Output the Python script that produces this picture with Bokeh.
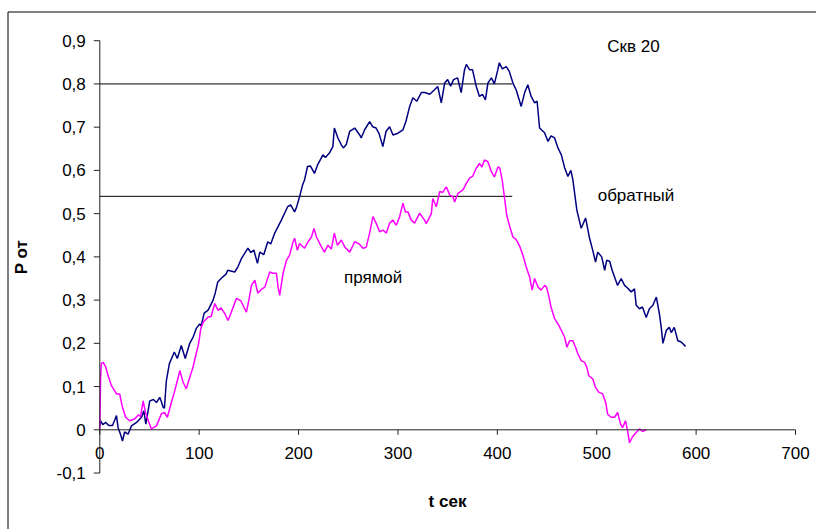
from bokeh.plotting import figure
from bokeh.models import FixedTicker, CustomJSTickFormatter, Range1d
from bokeh.embed import file_html
from bokeh.resources import INLINE

# обратный (blue)
t_obr = [0, 0.7, 3, 6, 9, 12.7, 15, 16.8, 18.4, 20.8, 22.8, 25, 28.5, 31.9, 37, 42, 44.3, 46.3, 48.6, 50.3,
         54, 57, 60.3, 62, 63.7, 65, 67, 70, 75, 78, 82, 86, 90.5, 94, 97, 100.5, 102, 105, 109, 114,
         116, 118.7, 122, 127, 128.7, 135.8, 139, 142.5, 149, 152, 155, 158.6, 161, 165, 169, 172, 176, 182.7, 189, 192,
         196, 198, 201, 204, 206, 209, 212, 216, 219, 224.5, 227, 231, 234.5, 236, 239.6, 243, 245, 248, 251.4, 256.5,
         261.5, 263, 266.5, 271.5, 274.5, 278, 281, 284.8, 288, 291.6, 295, 300, 305, 308, 311.8, 315, 319, 323.5, 327, 332,
         337, 340, 343.6, 347, 350, 353, 356, 360, 363.6, 367, 368.8, 372, 375, 378.8, 382, 385, 388, 390.5, 394, 397,
         400.5, 402, 405, 409, 412, 415.7, 419, 424, 427.5, 430.7, 434, 437.5, 440, 442.5, 447.5, 451, 454, 457.6, 461, 464.4,
         467.7, 471, 474, 476, 480, 484.4, 488.8, 492.8, 496, 498.8, 501, 505, 508, 510, 513, 515.5, 518, 521, 524.6, 528,
         531, 534.7, 538, 539.7, 543, 546, 549.8, 553, 556.5, 560, 563, 564.9, 566.6, 570, 573, 575, 578, 581.6, 585, 589.4]
p_obr = [0.008, 0.021, 0.012, 0.017, 0.01, 0.01, 0.022, 0.033, 0.005, -0.01, -0.026, -0.005, -0.01, 0.009, 0.017, 0.029, 0.044, 0.013, 0.044, 0.067,
         0.07, 0.063, 0.075, 0.065, 0.052, 0.05, 0.114, 0.153, 0.18, 0.165, 0.195, 0.165, 0.2, 0.215, 0.234, 0.245, 0.24, 0.27, 0.277, 0.3,
         0.315, 0.342, 0.35, 0.36, 0.369, 0.365, 0.377, 0.396, 0.42, 0.41, 0.416, 0.385, 0.411, 0.405, 0.435, 0.43, 0.455, 0.485, 0.516, 0.52,
         0.504, 0.515, 0.539, 0.566, 0.578, 0.609, 0.61, 0.593, 0.612, 0.636, 0.63, 0.64, 0.655, 0.698, 0.675, 0.659, 0.652, 0.66, 0.69, 0.698,
         0.682, 0.675, 0.694, 0.713, 0.701, 0.698, 0.685, 0.655, 0.69, 0.701, 0.682, 0.686, 0.694, 0.713, 0.748, 0.768, 0.76, 0.78, 0.78, 0.776,
         0.787, 0.794, 0.756, 0.802, 0.81, 0.795, 0.81, 0.814, 0.78, 0.833, 0.845, 0.833, 0.833, 0.794, 0.771, 0.776, 0.763, 0.802, 0.814, 0.8,
         0.833, 0.849, 0.835, 0.84, 0.829, 0.802, 0.786, 0.748, 0.78, 0.798, 0.771, 0.756, 0.76, 0.698, 0.687, 0.667, 0.68, 0.675, 0.652, 0.636,
         0.606, 0.586, 0.6, 0.578, 0.508, 0.466, 0.49, 0.443, 0.415, 0.388, 0.411, 0.4, 0.369, 0.392, 0.39, 0.369, 0.353, 0.334, 0.35, 0.334,
         0.328, 0.319, 0.326, 0.288, 0.28, 0.284, 0.26, 0.28, 0.288, 0.307, 0.269, 0.237, 0.2, 0.23, 0.237, 0.225, 0.237, 0.206, 0.203, 0.193]

# прямой (magenta)
t_pr = [0, 0.8, 1.5, 3.4, 6, 8.4, 11.7, 15, 16.8, 20, 22.8, 26, 30, 35, 39, 41, 43.6, 46, 49, 52,
        57, 62, 65, 68, 72, 75.4, 78.8, 80.5, 83.8, 87, 90.5, 93.8, 97, 99.5, 101.6, 104, 109, 112, 115.7, 119,
        122, 125.7, 129, 132, 137.5, 142, 147.5, 150, 152.6, 156, 159, 162.6, 166, 171, 174, 177.7, 179.4, 181, 184.4, 187.8,
        191, 194.5, 196, 198.8, 201, 206, 209.5, 213, 215.5, 218, 223, 226, 229.6, 233, 236, 239, 243, 246.4, 251.5, 256.5,
        261, 264.8, 268, 271.5, 274.8, 278, 281.6, 285, 288.3, 291.6, 295, 298.3, 301.7, 305, 307.5, 310, 313.4, 316.8, 321.8, 326.8,
        328.5, 333.6, 335, 338.6, 342, 345, 348.7, 352, 355.4, 357, 360.4, 365.4, 368.8, 372, 375, 378.8, 382, 384.5, 387, 390.5,
        394, 397, 400.6, 402.5, 405, 407.3, 409.5, 412.4, 415.7, 419, 422.4, 425.7, 429, 432.5, 435, 437.5, 441, 444, 447.6, 449.5,
        452, 454, 457.6, 461, 464.4, 467.7, 470, 472.7, 476, 478.7, 481, 484.4, 487.8, 490, 492, 496, 498.8, 502, 506, 509,
        511, 514.6, 518, 521, 524, 526, 529, 531, 533, 536, 539.7, 543, 546, 549.8]
p_pr = [0, 0.12, 0.153, 0.156, 0.145, 0.125, 0.102, 0.09, 0.083, 0.083, 0.052, 0.029, 0.021, 0.025, 0.035, 0.03, 0.067, 0.04, 0.02, 0.002,
        0.009, 0.037, 0.04, 0.029, 0.063, 0.09, 0.121, 0.137, 0.11, 0.095, 0.121, 0.145, 0.176, 0.2, 0.234, 0.249, 0.261, 0.262, 0.292, 0.276,
        0.282, 0.269, 0.253, 0.27, 0.304, 0.298, 0.272, 0.3, 0.334, 0.346, 0.316, 0.325, 0.33, 0.365, 0.362, 0.362, 0.33, 0.311, 0.362, 0.392,
        0.404, 0.435, 0.443, 0.415, 0.431, 0.42, 0.435, 0.446, 0.466, 0.446, 0.423, 0.411, 0.427, 0.418, 0.455, 0.427, 0.439, 0.423, 0.411, 0.435,
        0.43, 0.42, 0.422, 0.455, 0.493, 0.478, 0.458, 0.462, 0.455, 0.478, 0.485, 0.473, 0.493, 0.524, 0.504, 0.504, 0.485, 0.478, 0.501, 0.485,
        0.477, 0.5, 0.535, 0.516, 0.551, 0.549, 0.562, 0.543, 0.539, 0.527, 0.547, 0.555, 0.57, 0.582, 0.586, 0.605, 0.616, 0.608, 0.624, 0.62,
        0.597, 0.585, 0.608, 0.605, 0.576, 0.535, 0.495, 0.471, 0.446, 0.44, 0.425, 0.404, 0.377, 0.353, 0.323, 0.35, 0.33, 0.323, 0.334, 0.33,
        0.307, 0.284, 0.257, 0.245, 0.23, 0.214, 0.191, 0.206, 0.206, 0.191, 0.176, 0.16, 0.156, 0.145, 0.125, 0.118, 0.098, 0.087, 0.083, 0.063,
        0.036, 0.029, 0.029, 0.04, 0.013, 0.005, 0.021, -0.002, -0.03, -0.016, -0.006, 0.002, -0.004, 0.0]

ref_levels = [0.8, 0.54]
ref_end = 415

x_ticks = [0, 100, 200, 300, 400, 500, 600, 700]
y_ticks = [-0.1, 0, 0.1, 0.2, 0.3, 0.4, 0.5, 0.6, 0.7, 0.8, 0.9]
x_bounds = (0, 700)
y_bounds = (-0.1, 0.9)

ann_x = [537, 539.5, 275]
ann_y = [0.887, 0.543, 0.353]
ann_t = ["Скв 20", "обратный", "прямой"]

FS = "17px"

# ---- layout: frame fills the whole 816x529 canvas ----
W, H = 816, 529
X0_PX, X700_PX = 99.3, 795.0      # page px of t=0 and t=700
Y0_PX, Y09_PX = 429.3, 40.2       # page px of P=0 and P=0.9
sx = (X700_PX - X0_PX) / 700.0
sy = (Y0_PX - Y09_PX) / 0.9
x_start = -X0_PX / sx
x_end = (W - X0_PX) / sx
y_end = Y0_PX / sy
y_start = (Y0_PX - H) / sy

def tx(px):
    return (px - X0_PX) / sx

def ty(py):
    return (Y0_PX - py) / sy

p = figure(width=W, height=H, output_backend="svg", toolbar_location=None,
           x_range=Range1d(x_start, x_end), y_range=Range1d(y_start, y_end),
           min_border=0)
p.outline_line_color = None
p.xgrid.visible = False
p.ygrid.visible = False

# chart-area border (top and left edges visible in the window)
bx, by = tx(7.5), ty(11.5)
p.segment(x0=[bx, bx], y0=[by, by], x1=[bx, x_end], y1=[y_start, by], line_color="black", line_width=1)

# reference lines
p.segment(x0=[0] * len(ref_levels), y0=ref_levels, x1=[ref_end] * len(ref_levels), y1=ref_levels,
          line_color="black", line_width=1)

p.line(t_obr, p_obr, line_color="#000080", line_width=1.5)
p.line(t_pr, p_pr, line_color="#FF00FF", line_width=1.5)

# axes at fixed positions (x axis along P=0, y axis along t=0) for labels
xa = p.xaxis[0]
xa.fixed_location = 0
xa.bounds = x_bounds
xa.ticker = FixedTicker(ticks=x_ticks)
xa.axis_line_color = None
xa.major_tick_line_color = None
xa.minor_tick_line_color = None
xa.major_tick_in = 0
xa.major_tick_out = 5
xa.major_label_standoff = 12
xa.major_label_text_font_size = FS
xa.major_label_text_color = "black"
xa.axis_label = "t сек"
xa.axis_label_text_font_size = FS
xa.axis_label_text_font_style = "bold"
xa.axis_label_text_color = "black"
xa.axis_label_standoff = 30

ya = p.yaxis[0]
ya.fixed_location = 0
ya.bounds = y_bounds
ya.ticker = FixedTicker(ticks=y_ticks)
ya.formatter = CustomJSTickFormatter(code="if (Math.abs(tick) < 1e-9) { return '0'; } return tick.toFixed(1).replace('.', ',');")
ya.axis_line_color = None
ya.major_tick_line_color = None
ya.minor_tick_line_color = None
ya.major_tick_in = 0
ya.major_tick_out = 6
ya.major_label_standoff = 8
ya.major_label_text_font_size = FS
ya.major_label_text_color = "black"
ya.axis_label = "P от"
ya.axis_label_text_font_size = FS
ya.axis_label_text_font_style = "bold"
ya.axis_label_text_color = "black"
ya.axis_label_standoff = 22

# axis rules and tick marks, drawn from the tick arrays, above the axis layer
AX = "#222222"
p.segment(x0=[x_bounds[0], 0], y0=[0, y_bounds[0]], x1=[x_bounds[1], 0], y1=[0, y_bounds[1]],
          line_color=AX, line_width=1, level="overlay")
xt_len = 5 / sy
yt_len = 6 / sx
p.segment(x0=x_ticks, y0=[0] * len(x_ticks), x1=x_ticks, y1=[-xt_len] * len(x_ticks),
          line_color=AX, line_width=1, level="overlay")
p.segment(x0=[-yt_len] * len(y_ticks), y0=y_ticks, x1=[0] * len(y_ticks), y1=y_ticks,
          line_color=AX, line_width=1, level="overlay")

p.text(x=ann_x, y=ann_y, text=ann_t, text_font_size=FS,
       text_align="center", text_baseline="middle", text_color="black")

open("out.html", "w").write(file_html(p, INLINE))
